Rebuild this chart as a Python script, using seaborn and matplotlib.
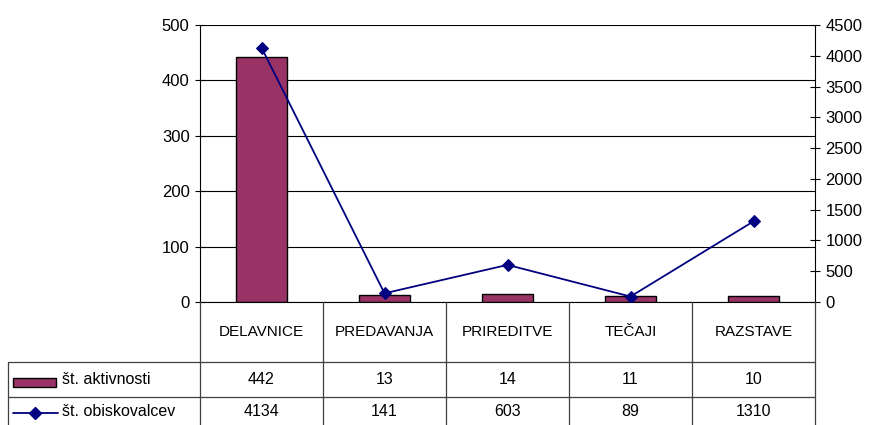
import matplotlib
matplotlib.use("Agg")
import matplotlib.pyplot as plt
import matplotlib.transforms as mtransforms
from matplotlib.lines import Line2D
from matplotlib.patches import Rectangle
import seaborn as sns
import pandas as pd

# ----------------------------------------------------------
# data
# ----------------------------------------------------------
categories = ["DELAVNICE", "PREDAVANJA", "PRIREDITVE", "TEČAJI", "RAZSTAVE"]
activities = [442, 13, 14, 11, 10]
visitors = [4134, 141, 603, 89, 1310]
series_names = ["št. aktivnosti", "št. obiskovalcev"]

BAR_COLOR = "#993366"
LINE_COLOR = "#000080"

W, H = 881, 425


def fy(p):
    return 1 - p / H


def fx(p):
    return p / W


sns.set_style("white")
plt.rcParams["font.family"] = ["Liberation Sans", "DejaVu Sans"]
plt.rcParams["text.color"] = "black"
plt.rcParams["ytick.color"] = "black"
plt.rcParams["ytick.labelcolor"] = "black"

df = pd.DataFrame({"kategorija": categories,
                   "aktivnosti": activities,
                   "obiskovalci": visitors})

fig = plt.figure(figsize=(W / 100, H / 100), dpi=100)
ax = fig.add_axes([fx(200), fy(302), fx(815) - fx(200), fy(25) - fy(302)])

sns.barplot(data=df, x="kategorija", y="aktivnosti", ax=ax,
            color=BAR_COLOR, width=0.42, edgecolor="black", linewidth=1,
            saturation=1)
ax.set_ylim(0, 500)
ax.set_yticks(range(0, 501, 100))
ax.set_xlim(-0.5, len(categories) - 0.5)
ax.yaxis.grid(True, color="black", linewidth=0.8)
ax.set_axisbelow(True)
ax.set_xlabel("")
ax.set_ylabel("")
ax.set_xticks([])
ax.tick_params(axis="y", direction="inout", length=7, width=0.8,
               labelsize=12, pad=4, left=True, colors="black")
for s in ["top", "right"]:
    ax.spines[s].set_visible(False)
for s in ["left", "bottom"]:
    ax.spines[s].set_color("black")
    ax.spines[s].set_linewidth(0.8)

ax2 = ax.twinx()
sns.lineplot(data=df, x="kategorija", y="obiskovalci", ax=ax2,
             color=LINE_COLOR, marker="D", markersize=6, linewidth=1.3,
             markeredgecolor=LINE_COLOR)
ax2.set_xlim(-0.5, len(categories) - 0.5)
ax2.set_ylim(0, 4500)
ax2.set_yticks(range(0, 4501, 500))
ax2.set_xlabel("")
ax2.set_ylabel("")
ax2.tick_params(axis="y", direction="inout", length=7, width=0.8,
                labelsize=12, pad=4, right=True, colors="black")
for s in ["top", "left", "bottom"]:
    ax2.spines[s].set_visible(False)
ax2.spines["right"].set_color("black")
ax2.spines["right"].set_linewidth(0.8)

# ----------------------------------------------------------
# data table under the plot
# ----------------------------------------------------------
trans = mtransforms.blended_transform_factory(ax.transData, fig.transFigure)
tc = "#404040"
lw = 0.9

# vertical lines at category boundaries
for b in [i - 0.5 for i in range(len(categories) + 1)]:
    fig.add_artist(Line2D([b, b], [fy(302), 0], transform=trans,
                          color=tc, lw=lw))
# horizontal lines
for yp in [362, 397]:
    fig.add_artist(Line2D([fx(8), fx(815)], [fy(yp), fy(yp)],
                          transform=fig.transFigure, color=tc, lw=lw))
fig.add_artist(Line2D([fx(8), fx(8)], [fy(362), 0],
                      transform=fig.transFigure, color=tc, lw=lw))

for i, c in enumerate(categories):
    fig.text(i, fy(332), c, transform=trans, ha="center", va="center",
             fontsize=11, color="black")
    fig.text(i, fy(380), str(activities[i]), transform=trans,
             ha="center", va="center", fontsize=11.5, color="black")
    fig.text(i, fy(412), str(visitors[i]), transform=trans,
             ha="center", va="center", fontsize=11.5, color="black")

# legend keys
fig.add_artist(Rectangle((fx(13), fy(387)), fx(56) - fx(13), fy(378) - fy(387),
                         transform=fig.transFigure, facecolor=BAR_COLOR,
                         edgecolor="black", lw=1))
fig.add_artist(Line2D([fx(13), fx(58)], [fy(413), fy(413)],
                      transform=fig.transFigure, color=LINE_COLOR, lw=1.3))
fig.add_artist(Line2D([fx(35)], [fy(413)], transform=fig.transFigure,
                      color=LINE_COLOR, marker="D", markersize=6))
fig.text(fx(62), fy(380), series_names[0], ha="left", va="center",
         fontsize=11.5, color="black")
fig.text(fx(62), fy(412), series_names[1], ha="left", va="center",
         fontsize=11.5, color="black")

fig.savefig("out.png", dpi=100, facecolor="white")
